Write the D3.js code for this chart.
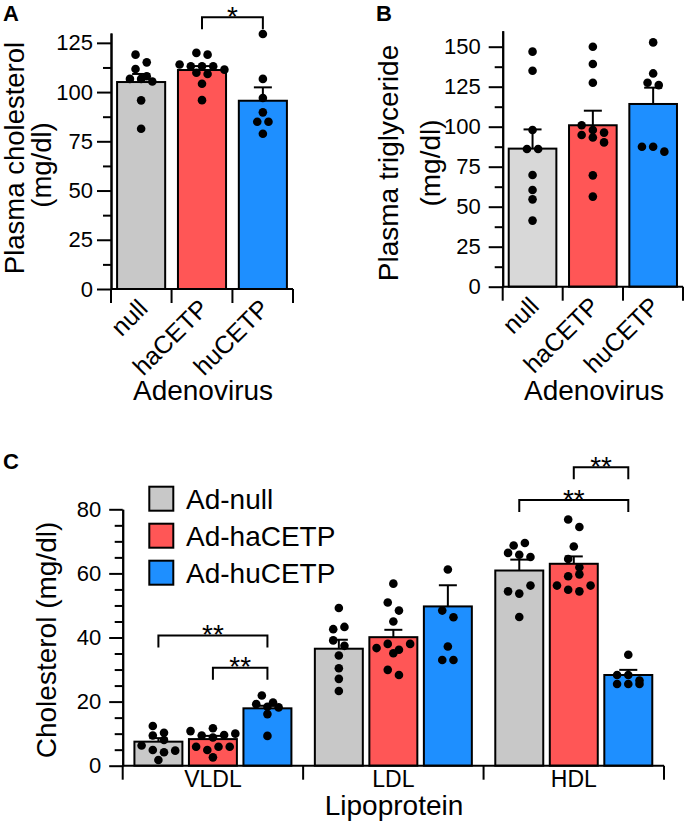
<!DOCTYPE html>
<html><head><meta charset="utf-8">
<script src="https://cdn.jsdelivr.net/npm/d3@7"></script>
<style>html,body{margin:0;padding:0;background:#fff;} svg{display:block;}</style>
</head><body>
<svg id="chart" width="686" height="823"></svg>
<script>
// ---------------- data ----------------
const adenoCats = ["null", "haCETP", "huCETP"];

// Panel A: plasma cholesterol (mg/dl)
const cholMean = [105.1, 111.2, 95.6];
const cholSem  = [4.1, 2.0, 6.8];
const cholNull = [119.0, 115.1, 111.7, 108.0, 106.7, 106.7, 105.4, 95.8, 81.4];
const cholHa   = [119.9, 119.0, 114.0, 113.1, 113.1, 113.1, 111.4, 109.8, 109.2, 104.2, 95.9];
const cholHu   = [129.5, 106.7, 97.0, 89.7, 84.9, 84.9, 78.8];
const cholTicks = [0, 25, 50, 75, 100, 125];

// Panel B: plasma triglyceride (mg/dl)
const tgMean = [86.3, 100.9, 114.2];
const tgSem  = [12.0, 9.1, 10.2];
const tgNull = [146.9, 135.0, 97.9, 86.1, 86.1, 69.8, 60.4, 54.6, 41.3];
const tgHa   = [150.0, 139.2, 127.5, 100.9, 97.9, 96.3, 94.8, 93.3, 90.2, 69.6, 56.3];
const tgHu   = [152.7, 133.3, 127.5, 126.0, 87.5, 87.5, 84.4];
const tgTicks = [0, 25, 50, 75, 100, 125, 150];

// Panel C: lipoprotein cholesterol (mg/dl)
const lipoGroups = ["VLDL", "LDL", "HDL"];
const lipoSeries = ["Ad-null", "Ad-haCETP", "Ad-huCETP"];
const nullMeanC = [7.5, 36.5, 60.9];
const nullSemC  = [1.1, 2.8, 3.4];
const haMeanC   = [8.3, 40.1, 63.0];
const haSemC    = [1.0, 2.3, 2.3];
const huMeanC   = [17.9, 49.7, 28.3];
const huSemC    = [0.8, 6.6, 1.6];
const nullPtsC = [
  [12.4, 10.3, 9.4, 8.0, 6.3, 4.9, 4.2, 4.7, 1.8],
  [49.2, 42.6, 43.3, 39.1, 37.4, 34.4, 30.4, 27.1, 23.3],
  [68.7, 69.5, 66.4, 65.8, 65.1, 54.4, 53.7, 56.2, 46.4]
];
const haPtsC = [
  [10.8, 8.8, 9.4, 11.7, 9.6, 10.0, 5.9, 4.9, 5.9, 5.9, 2.6],
  [56.8, 50.9, 48.4, 45.0, 36.7, 38.0, 36.2, 38.0, 35.1, 29.9, 28.3],
  [76.8, 74.5, 68.4, 64.5, 61.9, 59.1, 59.7, 56.2, 54.9, 54.4, 56.2]
];
const huPtsC = [
  [21.9, 19.2, 18.4, 19.7, 18.2, 16.1, 9.3],
  [61.2, 48.4, 46.3, 37.2, 33.0, 33.0],
  [34.6, 28.3, 28.3, 26.6, 25.5, 25.5, 25.5]
];
const lipoTicks = [0, 20, 40, 60, 80];

// significance annotations (bracket level in data units)
const sigA = [{a: "haCETP", b: "huCETP", level: 138, label: "*"}];
const sigC = [
  {group: "VLDL", a: "Ad-null",   b: "Ad-huCETP", level: 40.6, label: "**"},
  {group: "VLDL", a: "Ad-haCETP", b: "Ad-huCETP", level: 30.6, label: "**"},
  {group: "HDL",  a: "Ad-haCETP", b: "Ad-huCETP", level: 93.1, label: "**"},
  {group: "HDL",  a: "Ad-null",   b: "Ad-huCETP", level: 82.9, label: "**"}
];

// ---------------- styles ----------------
const FONT = "'Liberation Sans', Arial, Helvetica, sans-serif";
const GRAY = "#c8c8c8", GRAY_B = "#d8d8d8", RED = "#ff5656", BLUE = "#1e8fff";
const SW = 2, DOT_R = 4.3, DOT_STEP = 11.2, DOT_D = 8.6, STAR_FS = 28;

const svg = d3.select("#chart");

function styleAxis(g, fs) {
  g.attr("font-size", null).attr("font-family", null);
  g.selectAll("path, line").attr("stroke", "#000").attr("stroke-width", SW);
  g.selectAll("text").attr("font-size", fs).attr("font-family", FONT).attr("fill", "#000");
}

function drawYAxis(x, y, major, minorStep, majorLen, minorLen, pad) {
  const d = y.domain();
  const minor = d3.range(0, d[1] + 0.001, minorStep).filter(v => !major.includes(v));
  const gMinor = svg.append("g").attr("transform", `translate(${x},0)`)
    .call(d3.axisLeft(y).tickValues(minor).tickSize(minorLen).tickFormat("").tickSizeOuter(0));
  styleAxis(gMinor, 22);
  const gMajor = svg.append("g").attr("transform", `translate(${x},0)`)
    .call(d3.axisLeft(y).tickValues(major).tickSize(majorLen).tickPadding(pad).tickSizeOuter(0));
  styleAxis(gMajor, 22);
}

function line(x1, y1, x2, y2) {
  svg.append("line").attr("x1", x1).attr("y1", y1).attr("x2", x2).attr("y2", y2)
    .attr("stroke", "#000").attr("stroke-width", SW);
}

function text(str, x, y, fs, opts = {}) {
  const t = svg.append("text").attr("font-family", FONT).attr("font-size", fs)
    .attr("fill", "#000").attr("text-anchor", opts.anchor || "middle").text(str);
  if (opts.bold) t.attr("font-weight", "bold");
  if (opts.rotate !== undefined) t.attr("transform", `translate(${x},${y}) rotate(${opts.rotate})`);
  else t.attr("x", x).attr("y", y);
  return t;
}

// row-binned scatter (column scatter layout)
function swarm(values, y, cx) {
  const pts = values.map((v, i) => ({v, i, py: y(v)})).sort((a, b) => a.py - b.py);
  const rows = [];
  let cur = null;
  pts.forEach(p => {
    if (!cur || p.py - cur[0].py > DOT_D || cur.length >= 5) { cur = [p]; rows.push(cur); }
    else cur.push(p);
  });
  rows.forEach(r => {
    r.sort((a, b) => a.i - b.i);
    r.forEach((p, k) => { p.x = cx + (k - (r.length - 1) / 2) * DOT_STEP; });
  });
  return pts;
}

function drawBar(x, w, y, mean, sem, pts, color) {
  const y0 = y(0);
  svg.append("rect").attr("x", x).attr("y", y(mean)).attr("width", w).attr("height", y0 - y(mean))
    .attr("fill", color).attr("stroke", "#000").attr("stroke-width", SW);
  const cx = x + w / 2;
  line(cx, y(mean), cx, y(mean + sem));
  line(cx - 9, y(mean + sem), cx + 9, y(mean + sem));
  svg.append("g").selectAll("circle").data(swarm(pts, y, cx)).join("circle")
    .attr("cx", d => d.x).attr("cy", d => d.py).attr("r", DOT_R).attr("fill", "#000");
}

function bracket(x1, x2, yPx, label) {
  svg.append("path").attr("d", `M${x1},${yPx + 12}V${yPx}H${x2}V${yPx + 12}`)
    .attr("fill", "none").attr("stroke", "#000").attr("stroke-width", SW);
  text(label, (x1 + x2) / 2, yPx - 7.5 + 0.573 * STAR_FS, STAR_FS);
}

function dividers(xs, y0, len) {
  xs.forEach(xv => line(xv, y0, xv, y0 + len));
}

// ---------------- Panel A / B ----------------
function simplePanel(cfg) {
  const y = d3.scaleLinear().domain(cfg.domain).range(cfg.yRange);
  const x = d3.scaleBand().domain(adenoCats).range(cfg.xRange).paddingInner(0.21).paddingOuter(0.1);
  const y0 = y(0), bw = x.bandwidth();
  cfg.means.forEach((m, i) => drawBar(x(adenoCats[i]), bw, y, m, cfg.sems[i], cfg.points[i], cfg.colors[i]));
  drawYAxis(cfg.xRange[0], y, cfg.ticks, 12.5, 14, 8, cfg.pad);
  line(cfg.xRange[0], y0, cfg.xRange[1], y0);
  const bounds = [cfg.xRange[0]];
  for (let i = 0; i < adenoCats.length - 1; i++) {
    bounds.push((x(adenoCats[i]) + bw + x(adenoCats[i + 1])) / 2);
  }
  bounds.push(cfg.xRange[1]);
  dividers(bounds, y0, 14);
  adenoCats.forEach(c => {
    text(c, x(c) + bw / 2 + 8, y0 + 21, 25, {anchor: "end", rotate: -45});
  });
  return {x, y};
}

const A = simplePanel({
  domain: [0, 130], yRange: [289, 33], xRange: [111, 293],
  means: cholMean, sems: cholSem, points: [cholNull, cholHa, cholHu],
  colors: [GRAY, RED, BLUE], ticks: cholTicks, pad: 4
});
sigA.forEach(s => bracket(A.x(s.a) + A.x.bandwidth() / 2, A.x(s.b) + A.x.bandwidth() / 2, A.y(s.level), s.label));
text("Plasma cholesterol", 24, 158, 27.5, {rotate: -90});
text("(mg/dl)", 51, 165, 27.5, {rotate: -90});
text("Adenovirus", 203, 400, 28);
text("A", 3, 20.5, 22, {anchor: "start", bold: true});

const B = simplePanel({
  domain: [0, 160], yRange: [286.7, 30.7], xRange: [502.7, 683],
  means: tgMean, sems: tgSem, points: [tgNull, tgHa, tgHu],
  colors: [GRAY_B, RED, BLUE], ticks: tgTicks, pad: 8
});
text("Plasma triglyceride", 398, 163, 28, {rotate: -90});
text("(mg/dl)", 440, 163, 28, {rotate: -90});
text("Adenovirus", 594, 400, 28);
text("B", 376, 20.5, 22, {anchor: "start", bold: true});

// ---------------- Panel C ----------------
const yC = d3.scaleLinear().domain([0, 80]).range([765.7, 509.3]);
const x0 = d3.scaleBand().domain(lipoGroups).range([122.7, 664]);
const x1 = d3.scaleBand().domain(lipoSeries).range([0, x0.bandwidth()]).paddingInner(0.12).paddingOuter(0.215);
const seriesMeans = [nullMeanC, haMeanC, huMeanC];
const seriesSems = [nullSemC, haSemC, huSemC];
const seriesPts = [nullPtsC, haPtsC, huPtsC];
const seriesColors = [GRAY, RED, BLUE];

lipoGroups.forEach((g, gi) => {
  lipoSeries.forEach((s, si) => {
    drawBar(x0(g) + x1(s), x1.bandwidth(), yC, seriesMeans[si][gi], seriesSems[si][gi], seriesPts[si][gi], seriesColors[si]);
  });
});
drawYAxis(122.7, yC, lipoTicks, 5, 13.5, 8, 8);
const yC0 = yC(0);
line(122.7, yC0, 664, yC0);
dividers([...lipoGroups.map(g => x0(g)), 664], yC0, 14);
lipoGroups.forEach(g => text(g, x0(g) + x0.bandwidth() / 2, 787, 23));
sigC.forEach(s => {
  const xa = x0(s.group) + x1(s.a) + x1.bandwidth() / 2;
  const xb = x0(s.group) + x1(s.b) + x1.bandwidth() / 2;
  bracket(xa, xb, yC(s.level), s.label);
});
text("Cholesterol (mg/dl)", 56, 640, 28, {rotate: -90});
text("Lipoprotein", 394, 815, 28);
text("C", 3, 469, 22, {anchor: "start", bold: true});

// legend
lipoSeries.forEach((s, i) => {
  const ly = 486.7 + i * 37;
  svg.append("rect").attr("x", 149.3).attr("y", ly).attr("width", 24).attr("height", 24)
    .attr("fill", seriesColors[i]).attr("stroke", "#000").attr("stroke-width", SW);
  text(s, 186, ly + 12 + 9.8, 28, {anchor: "start"});
});
</script>
</body></html>
